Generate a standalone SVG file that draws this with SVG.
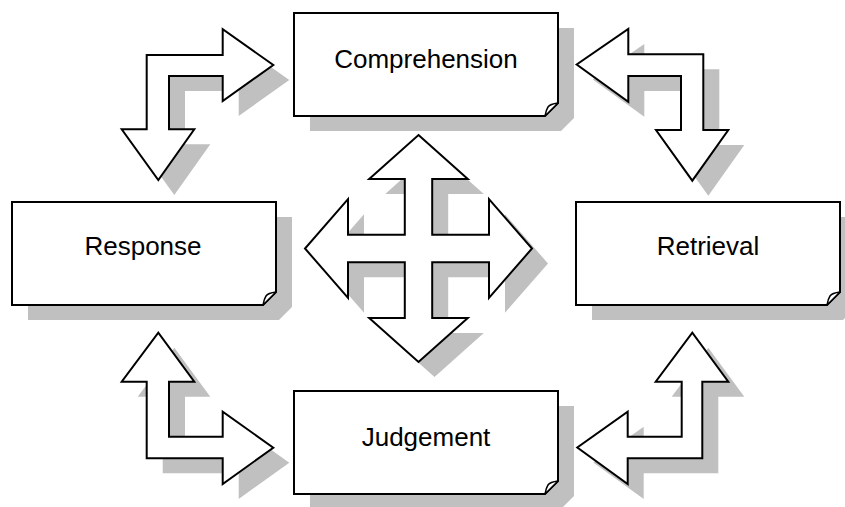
<svg xmlns="http://www.w3.org/2000/svg" xmlns:xlink="http://www.w3.org/1999/xlink" width="845" height="507" viewBox="0 0 845 507">
<style>
.sh{fill:#c0c0c0;stroke:none}
.sh use{fill:#c0c0c0}
.pg{fill:#ffffff;stroke:#000000;stroke-width:2;stroke-linejoin:miter}
.fd{fill:#ffffff;stroke:#000000;stroke-width:1.5;stroke-linejoin:round}
.ar{fill:#ffffff;stroke:#000000;stroke-width:2;stroke-linejoin:miter}
.lb{font-family:"Liberation Sans",Arial,sans-serif;font-size:26px;fill:#000000;text-anchor:middle}
</style>
<defs>
<path id="page" d="M0,0 H264 V90 L251,103 H0 Z"/>
<path id="fold" d="M264,90 Q256,91 254,94 Q252,97 251,103 Z"/>
<path id="a1" d="M146.7,55 L222.7,55 L222.7,29.3 L273.3,65 L222.7,101 L222.7,76 L169,76 L169,129.3 L194.3,129.3 L158.3,180 L121.7,129.3 L146.7,129.3 Z"/>
<path id="a2" d="M703.3,54.3 L628.3,54.3 L628.3,29 L576.7,64.5 L628.3,101.7 L628.3,76 L681,76 L681,130 L656,130 L692.3,180.7 L728.3,130 L703.3,130 Z"/>
<path id="a3" d="M146.7,381.7 L121.7,381.7 L158.3,332.7 L194.3,381.7 L169,381.7 L169,436.7 L222.7,436.7 L222.7,411.7 L273.3,447.7 L222.7,484 L222.7,458.3 L146.7,458.3 Z"/>
<path id="a4" d="M702.3,381.7 L728.3,381.7 L692.3,332.7 L655.7,381.7 L681.7,381.7 L681.7,436.7 L627.7,436.7 L627.7,411.7 L577.3,447.5 L627.7,484 L627.7,458.3 L702.3,458.3 Z"/>
<path id="a5" d="M418.5,135 L467.8,179 L432.2,179 L432.2,234.8 L489,234.8 L489,199.2 L532,248.5 L489,297.8 L489,262.2 L432.2,262.2 L432.2,318 L467.8,318 L418.5,362 L369.2,318 L404.8,318 L404.8,262.2 L348,262.2 L348,297.8 L305,248.5 L348,199.2 L348,234.8 L404.8,234.8 L404.8,179 L369.2,179 Z"/>
</defs>
<g id="shadows" class="sh" transform="translate(16,15)">
<use xlink:href="#page" transform="translate(294,13)"/>
<use xlink:href="#page" transform="translate(12,202)"/>
<use xlink:href="#page" transform="translate(576,202)"/>
<use xlink:href="#page" transform="translate(294,391)"/>
<use xlink:href="#a1"/>
<use xlink:href="#a2"/>
<use xlink:href="#a3"/>
<use xlink:href="#a4"/>
<use xlink:href="#a5"/>
</g>
<g id="connectors">
<use class="ar" xlink:href="#a1"/>
<use class="ar" xlink:href="#a2"/>
<use class="ar" xlink:href="#a3"/>
<use class="ar" xlink:href="#a4"/>
<use class="ar" xlink:href="#a5"/>
</g>
<g id="comprehension" transform="translate(294,13)">
<use class="pg" xlink:href="#page"/>
<use class="fd" xlink:href="#fold"/>
<text class="lb" x="132" y="55">Comprehension</text>
</g>
<g id="response" transform="translate(12,202)">
<use class="pg" xlink:href="#page"/>
<use class="fd" xlink:href="#fold"/>
<text class="lb" x="131" y="53">Response</text>
</g>
<g id="retrieval" transform="translate(576,202)">
<use class="pg" xlink:href="#page"/>
<use class="fd" xlink:href="#fold"/>
<text class="lb" x="132" y="53">Retrieval</text>
</g>
<g id="judgement" transform="translate(294,391)">
<use class="pg" xlink:href="#page"/>
<use class="fd" xlink:href="#fold"/>
<text class="lb" x="132" y="55">Judgement</text>
</g>
</svg>
